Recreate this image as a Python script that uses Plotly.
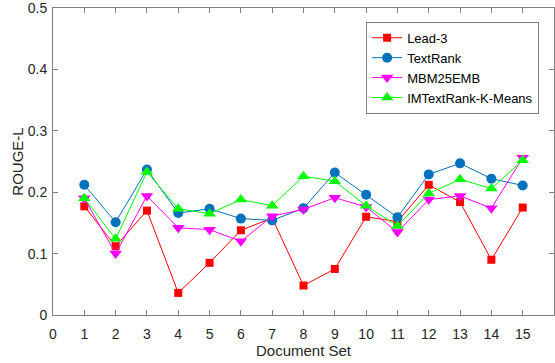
import plotly.graph_objects as go

doc_sets = list(range(1, 16))
lead3 = [0.177, 0.112, 0.170, 0.036, 0.085, 0.138, 0.158, 0.048, 0.075, 0.160, 0.152, 0.212, 0.184, 0.090, 0.175]
textrank = [0.212, 0.151, 0.237, 0.166, 0.173, 0.157, 0.154, 0.174, 0.232, 0.196, 0.159, 0.229, 0.247, 0.222, 0.211]
mbm25emb = [0.190, 0.100, 0.194, 0.142, 0.139, 0.120, 0.161, 0.172, 0.191, 0.176, 0.135, 0.188, 0.194, 0.174, 0.256]
imtextrank = [0.190, 0.124, 0.233, 0.173, 0.165, 0.188, 0.178, 0.226, 0.218, 0.178, 0.145, 0.198, 0.221, 0.206, 0.252]

x_ticks = list(range(0, 16))
y_ticks = [0, 0.1, 0.2, 0.3, 0.4, 0.5]

series = [
    ("Lead-3", lead3, "#ff0000", "square", 8),
    ("TextRank", textrank, "#0072bd", "circle", 10),
    ("MBM25EMB", mbm25emb, "#ff00ff", "triangle-down", 11),
    ("IMTextRank-K-Means", imtextrank, "#00ff00", "triangle-up", 11),
]

fig = go.Figure()
for name, vals, color, sym, size in series:
    fig.add_trace(go.Scatter(
        x=doc_sets, y=vals, name=name, mode="lines+markers",
        line=dict(color=color, width=1),
        marker=dict(symbol=sym, size=size, color=color, line=dict(width=0)),
    ))

axis_common = dict(
    showline=True, linecolor="#808080", linewidth=1, mirror="ticks",
    ticks="inside", ticklen=5, tickcolor="#808080", showgrid=False, zeroline=False,
    automargin=False, ticklabeloverflow="allow",
    tickfont=dict(family="Arial, Liberation Sans", size=14, color="#262626"),
)

fig.update_layout(
    width=555, height=363,
    margin=dict(l=53, r=1, t=8, b=48),
    paper_bgcolor="white", plot_bgcolor="white",
    font=dict(family="Arial, Liberation Sans", color="#262626"),
    xaxis=dict(range=[0, 16], tickvals=x_ticks, ticktext=[str(v) for v in x_ticks],
               ticklabelstandoff=6,
               title=dict(text="Document Set", font=dict(size=15), standoff=4), **axis_common),
    yaxis=dict(range=[0, 0.5], tickvals=y_ticks, ticktext=["0", "0.1", "0.2", "0.3", "0.4", "0.5"],
               ticklabelstandoff=2,
               title=dict(text="ROUGE-L", font=dict(size=15), standoff=0), **axis_common),
    legend=dict(x=0.625, y=0.955, xanchor="left", yanchor="top",
                bordercolor="#808080", borderwidth=1, bgcolor="white",
                font=dict(size=13, color="#000000"), tracegroupgap=0),
    showlegend=True,
)

fig.write_html("out.html", config={"displayModeBar": False},
               post_script="document.documentElement.style.margin='0';document.body.style.margin='0';document.body.style.overflow='hidden';")
